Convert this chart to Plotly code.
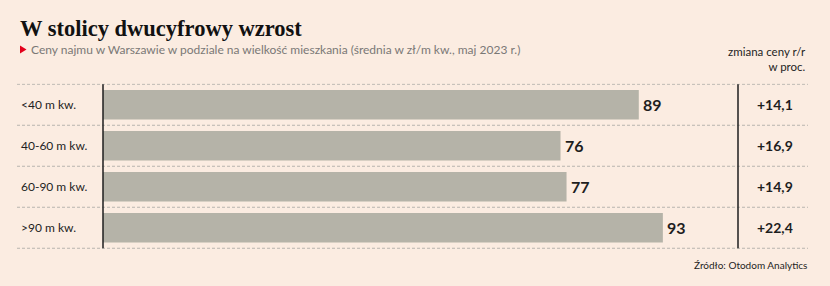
import plotly.graph_objects as go

categories = ["<40 m kw.", "40-60 m kw.", "60-90 m kw.", ">90 m kw."]
prices = [89, 76, 77, 93]
changes = ["+14,1", "+16,9", "+14,9", "+22,4"]

title = "W stolicy dwucyfrowy wzrost"
subtitle = "Ceny najmu w Warszawie w podziale na wielkość mieszkania (średnia w zł/m kw., maj 2023 r.)"
col_header = ["zmiana ceny r/r", "w proc."]
source = "Źródło: Otodom Analytics"

W, H = 830, 286
BG = "#fbece1"
DARK = "#1e1e1e"
FONT = "Lato"

def px(x):
    return x / W

def py(y):
    return 1 - y / H

fig = go.Figure()
fig.add_trace(go.Bar(
    x=prices, y=categories, orientation="h",
    marker=dict(color="#b5b3a8", line=dict(width=0)),
    width=0.72, cliponaxis=False, hoverinfo="skip",
))

shapes = []
n = len(categories)
for i in range(n + 1):
    shapes.append(dict(type="line", xref="paper", yref="y",
                       x0=px(17), x1=px(808), y0=i - 0.5, y1=i - 0.5,
                       line=dict(color="#b8b4ae", width=1, dash="3px,2px"), layer="below"))
for xp in (103, 738):
    shapes.append(dict(type="line", xref="paper", yref="y",
                       x0=px(xp), x1=px(xp), y0=-0.5, y1=n - 0.5,
                       line=dict(color=DARK, width=1.5)))
shapes.append(dict(type="path", xref="paper", yref="paper",
                   path=f"M {px(20)} {py(45.5)} L {px(20)} {py(53.5)} L {px(26.5)} {py(49.5)} Z",
                   fillcolor="#e3001b", line=dict(width=0)))

annotations = []
for c, v, ch in zip(categories, prices, changes):
    annotations.append(dict(x=px(19), y=c, xref="paper", yref="y", text=c, showarrow=False,
                            xanchor="left", yanchor="middle",
                            font=dict(family=FONT, size=12, color=DARK)))
    annotations.append(dict(x=v, y=c, xref="x", yref="y", text=f"<b>{v}</b>", showarrow=False,
                            xanchor="left", yanchor="middle", xshift=2,
                            font=dict(family=FONT, size=16, color=DARK)))
    annotations.append(dict(x=px(775), y=c, xref="paper", yref="y", text=f"<b>{ch}</b>", showarrow=False,
                            xanchor="center", yanchor="middle",
                            font=dict(family=FONT, size=14, color=DARK)))
annotations += [
    dict(x=px(18), y=py(29), xref="paper", yref="paper", text=f"<b>{title}</b>", showarrow=False,
         xanchor="left", yanchor="middle", font=dict(family="Liberation Serif", size=22.5, color="#111")),
    dict(x=px(29), y=py(49.5), xref="paper", yref="paper", text=subtitle, showarrow=False,
         xanchor="left", yanchor="middle", font=dict(family=FONT, size=12, color="#7a7876")),
    dict(x=px(808), y=py(58.5), xref="paper", yref="paper", text="<br>".join(col_header),
         showarrow=False, xanchor="right", yanchor="middle", align="right",
         font=dict(family=FONT, size=11.5, color=DARK)),
    dict(x=px(809), y=py(265), xref="paper", yref="paper", text=source, showarrow=False,
         xanchor="right", yanchor="middle", font=dict(family=FONT, size=10, color=DARK)),
]

fig.update_layout(
    width=W, height=H, margin=dict(l=0, r=0, t=0, b=0),
    paper_bgcolor=BG, plot_bgcolor=BG, showlegend=False,
    xaxis=dict(domain=[px(103), px(738)], range=[0, (738 - 103) / 6.02],
               visible=False, fixedrange=True),
    yaxis=dict(domain=[1 - 249 / H, 1 - 83.5 / H], categoryorder="array",
               categoryarray=categories, autorange="reversed",
               visible=False, fixedrange=True),
    shapes=shapes, annotations=annotations,
)
fig.write_html("out.html", config={"displayModeBar": False})
